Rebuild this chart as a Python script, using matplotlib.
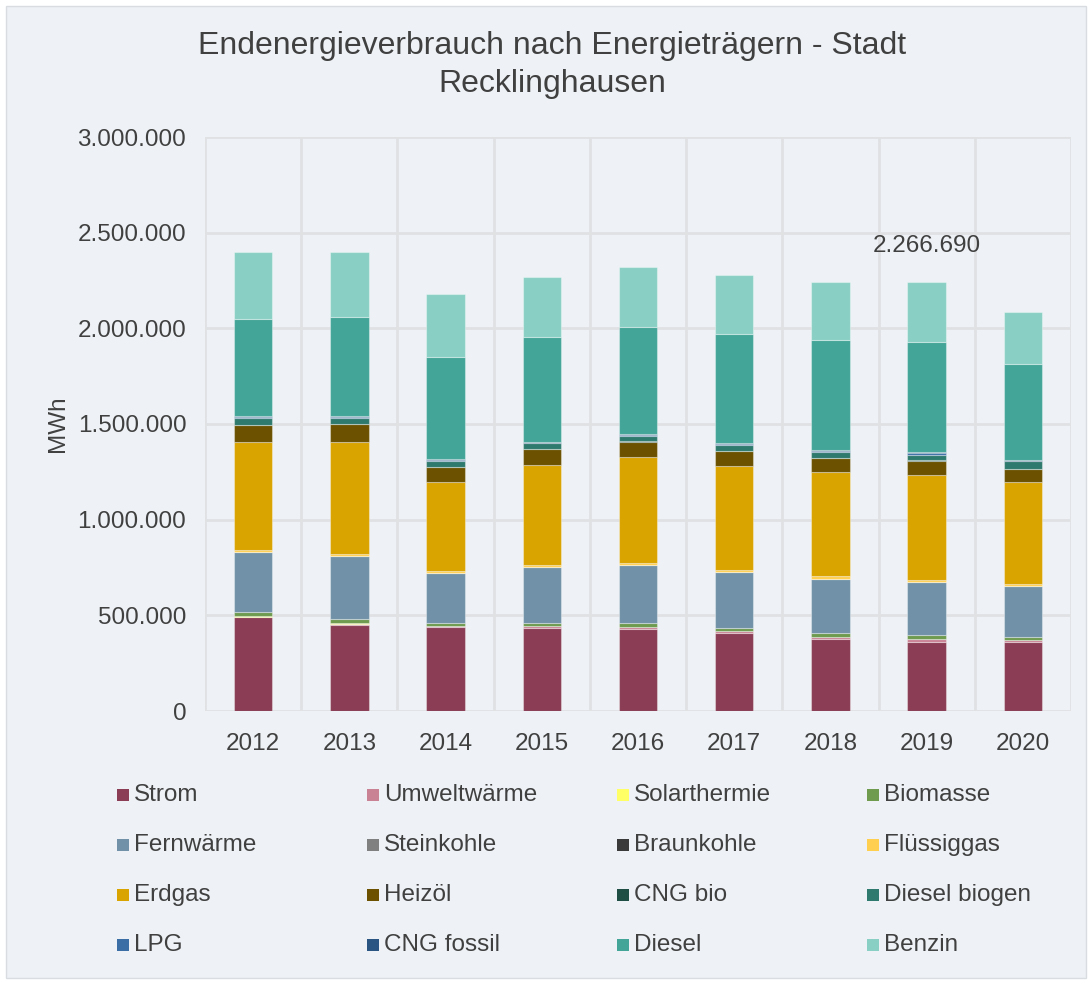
import matplotlib
matplotlib.use("Agg")
import matplotlib.pyplot as plt
from matplotlib.patches import Rectangle
import numpy as np

plt.rcParams['font.family'] = ['Liberation Sans', 'DejaVu Sans']

years = ["2012", "2013", "2014", "2015", "2016", "2017", "2018", "2019", "2020"]

carriers = ["Strom", "Umweltwärme", "Solarthermie", "Biomasse",
            "Fernwärme", "Steinkohle", "Braunkohle", "Flüssiggas",
            "Erdgas", "Heizöl", "CNG bio", "Diesel biogen",
            "LPG", "CNG fossil", "Diesel", "Benzin"]

colors = ["#8A3D54", "#C98294", "#FFFF66", "#6E9B4E",
          "#7191A8", "#808080", "#3A3A3A", "#FFD050",
          "#D9A300", "#6B5100", "#1F4E45", "#2F7A6E",
          "#3A6EA5", "#2A5582", "#43A597", "#89CFC4"]

strom        = [490000, 448000, 437500, 435000, 428600, 406200, 376400, 362800, 360700]
umweltwaerme = [3000, 8900, 5200, 7800, 10500, 10500, 10500, 12000, 8900]
solarthermie = [1500, 1500, 1500, 1500, 1500, 1500, 1500, 1500, 1500]
biomasse     = [23000, 20900, 17200, 17200, 20900, 15700, 20900, 19300, 15700]
fernwaerme   = [313600, 330800, 259800, 291100, 300000, 292700, 282200, 278600, 266600]
steinkohle   = [500, 500, 500, 500, 500, 500, 500, 500, 500]
braunkohle   = [500, 500, 500, 500, 500, 500, 500, 500, 500]
fluessiggas  = [10500, 8900, 10500, 8900, 10500, 8900, 10500, 10500, 10500]
erdgas       = [562900, 585400, 466700, 524200, 554000, 545100, 543600, 548800, 529400]
heizoel      = [90400, 95600, 75300, 82100, 81500, 74700, 75300, 74700, 70000]
cng_bio      = [0, 0, 0, 0, 300, 300, 300, 300, 300]
diesel_biog  = [36600, 31000, 32900, 30300, 28200, 35000, 31400, 29800, 39700]
lpg          = [4000, 4000, 4500, 3500, 5000, 4500, 6000, 7000, 4500]
cng_fossil   = [2800, 4000, 4400, 2800, 5500, 4400, 6000, 7100, 4400]
diesel       = [510600, 521100, 533100, 550400, 560800, 571300, 571300, 574900, 500100]
benzin       = [346500, 336100, 329300, 312100, 312000, 308400, 306800, 315200, 271800]

series = [strom, umweltwaerme, solarthermie, biomasse, fernwaerme, steinkohle,
          braunkohle, fluessiggas, erdgas, heizoel, cng_bio, diesel_biog,
          lpg, cng_fossil, diesel, benzin]

label_text = "2.266.690"
label_year = "2019"

yticks = [0, 500000, 1000000, 1500000, 2000000, 2500000, 3000000]
ytick_labels = ["0", "500.000", "1.000.000", "1.500.000", "2.000.000", "2.500.000", "3.000.000"]

W, H = 1092, 983
bg = "#EEF2F6"
txt = "#404040"

fig = plt.figure(figsize=(W / 100, H / 100), dpi=100, facecolor="white")
fig.patches.append(Rectangle((6 / W, 5 / H), 1 - 12 / W, 1 - 11 / H,
                             transform=fig.transFigure, facecolor=bg,
                             edgecolor="#D9DDE2", linewidth=1, zorder=-5))

ax = fig.add_axes([205 / W, (H - 711) / H, (1071 - 205) / W, (711 - 137) / H])
ax.set_facecolor(bg)

x = np.arange(len(years))
bottom = np.zeros(len(years))
for vals, col, name in zip(series, colors, carriers):
    v = np.array(vals, dtype=float)
    ax.bar(x, v, width=0.4, bottom=bottom, color=col, label=name,
           edgecolor=(1, 1, 1, 0.35), linewidth=0.8, zorder=3)
    bottom += v

ax.set_xlim(-0.5, len(years) - 0.5)
ax.set_ylim(0, 3000000)
ax.set_yticks(yticks)
ax.set_yticklabels(ytick_labels)
ax.set_xticks(x)
ax.set_xticklabels(years)
ax.set_xticks(np.arange(-0.5, len(years), 1), minor=True)
ax.tick_params(axis="both", which="both", length=0, labelsize=17.5, colors=txt)
ax.tick_params(axis="y", pad=13.5)
ax.tick_params(axis="x", pad=16)
ax.grid(axis="y", which="major", color="#E0E1E3", linewidth=2, zorder=0)
ax.grid(axis="x", which="minor", color="#E0E1E3", linewidth=2, zorder=0)
for s in ax.spines.values():
    s.set_visible(False)

ax.set_ylabel("MWh", fontsize=17.5, color=txt, labelpad=6)

xi = years.index(label_year)
ax.text(xi, 2430000, label_text, ha="center", va="center", fontsize=17.5, color=txt)

fig.text(552 / W, 1 - 65 / H,
         "Endenergieverbrauch nach Energieträgern - Stadt\nRecklinghausen",
         ha="center", va="center", fontsize=23, color=txt, linespacing=1.32)

# legend (row-wise, 4 columns)
col_x = [117, 367, 617, 867]
row_y = [795, 845, 895, 945]
sq = 12
for i, (name, col) in enumerate(zip(carriers, colors)):
    r, c = divmod(i, 4)
    px, py = col_x[c], row_y[r]
    fig.patches.append(Rectangle((px / W, (H - py - sq / 2) / H), sq / W, sq / H,
                                 transform=fig.transFigure, facecolor=col,
                                 edgecolor="none", zorder=2))
    fig.text((px + sq + 5) / W, (H - py) / H, name, ha="left", va="center",
             fontsize=17.5, color=txt)

fig.savefig("out.png", dpi=100, facecolor="white")
